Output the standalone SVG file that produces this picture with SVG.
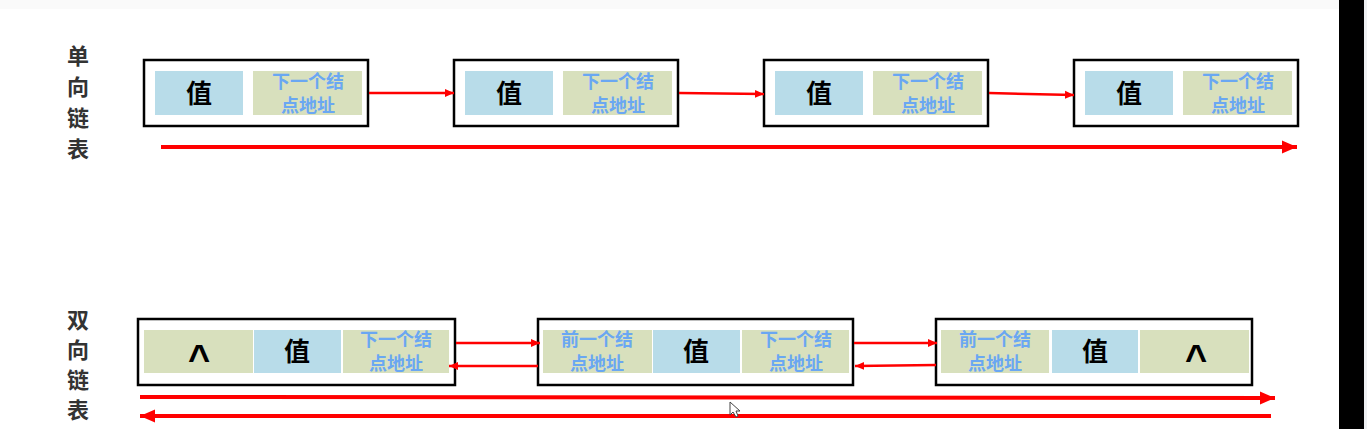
<svg xmlns="http://www.w3.org/2000/svg" width="1367" height="429" viewBox="0 0 1367 429">
<defs>
<style>
.box{fill:#fff;stroke:#000;stroke-width:2.5}
.val{fill:#b8dce9}
.ptr{fill:#d8e0bd}
.vt{font-family:"Noto Sans CJK SC","Noto Sans",sans-serif;font-weight:700;font-size:26px;fill:#000;text-anchor:middle}
.pt{font-family:"Noto Sans CJK SC","Noto Sans",sans-serif;font-weight:700;font-size:18px;fill:#6aa7f2;text-anchor:middle}
.nil{font-family:"Liberation Sans",Arial,sans-serif;font-weight:700;font-size:38px;fill:#000;text-anchor:middle}
.lab{font-family:"Noto Sans CJK SC",sans-serif;font-weight:700;font-size:22px;fill:#333;text-anchor:middle}
.thin{stroke:#ff0000;stroke-width:2.5;fill:none}
.thick{stroke:#ff0000;stroke-width:4;fill:none}
</style>
<marker id="ah" markerUnits="userSpaceOnUse" markerWidth="10" markerHeight="10" refX="9" refY="5" orient="auto">
<path d="M0,1 L9,5 L0,9 Z" fill="#ff0000"/>
</marker>
<marker id="ahL" markerUnits="userSpaceOnUse" markerWidth="16" markerHeight="14" refX="15" refY="7" orient="auto">
<path d="M0,0.5 L15,7 L0,13.5 Z" fill="#ff0000"/>
</marker>
</defs>
<rect x="0" y="0" width="1339" height="9" fill="#fafafa"/>
<rect x="1339" y="0" width="25" height="429" fill="#000"/>
<rect x="1364" y="0" width="3" height="429" fill="#eef0f3"/>

<g id="label-single">
<text class="lab" x="78" y="64">单</text>
<text class="lab" x="78" y="95">向</text>
<text class="lab" x="78" y="126">链</text>
<text class="lab" x="78" y="157">表</text>
</g>
<g id="label-double">
<text class="lab" x="78" y="328">双</text>
<text class="lab" x="78" y="358">向</text>
<text class="lab" x="78" y="388">链</text>
<text class="lab" x="78" y="418">表</text>
</g>

<g id="s1">
<rect class="box" x="144" y="60" width="224" height="66"/>
<rect class="val" x="155" y="71" width="88" height="44"/>
<rect class="ptr" x="253" y="71" width="109" height="44"/>
<text class="vt" x="199" y="103">值</text>
<text class="pt" x="308" y="88">下一个结</text>
<text class="pt" x="308" y="112">点地址</text>
</g>
<g id="s2">
<rect class="box" x="454" y="60" width="224" height="66"/>
<rect class="val" x="465" y="71" width="88" height="44"/>
<rect class="ptr" x="563" y="71" width="109" height="44"/>
<text class="vt" x="509" y="103">值</text>
<text class="pt" x="618" y="88">下一个结</text>
<text class="pt" x="618" y="112">点地址</text>
</g>
<g id="s3">
<rect class="box" x="764" y="60" width="224" height="66"/>
<rect class="val" x="775" y="71" width="88" height="44"/>
<rect class="ptr" x="873" y="71" width="109" height="44"/>
<text class="vt" x="819" y="103">值</text>
<text class="pt" x="928" y="88">下一个结</text>
<text class="pt" x="928" y="112">点地址</text>
</g>
<g id="s4">
<rect class="box" x="1074" y="60" width="224" height="66"/>
<rect class="val" x="1085" y="71" width="88" height="44"/>
<rect class="ptr" x="1183" y="71" width="109" height="44"/>
<text class="vt" x="1129" y="103">值</text>
<text class="pt" x="1238" y="88">下一个结</text>
<text class="pt" x="1238" y="112">点地址</text>
</g>

<g id="d1">
<rect class="box" x="138" y="319" width="317" height="66"/>
<rect class="ptr" x="144" y="330" width="109" height="43"/>
<rect class="val" x="254" y="330" width="87" height="43"/>
<rect class="ptr" x="343" y="330" width="106" height="43"/>
<text class="nil" x="199" y="372">^</text>
<text class="vt" x="297" y="361">值</text>
<text class="pt" x="396" y="346">下一个结</text>
<text class="pt" x="396" y="370">点地址</text>
</g>
<g id="d2">
<rect class="box" x="538" y="319" width="315" height="66"/>
<rect class="ptr" x="543" y="330" width="109" height="43"/>
<rect class="val" x="653" y="330" width="87" height="43"/>
<rect class="ptr" x="742" y="330" width="107" height="43"/>
<text class="pt" x="597" y="346">前一个结</text>
<text class="pt" x="597" y="370">点地址</text>
<text class="vt" x="696" y="361">值</text>
<text class="pt" x="796" y="346">下一个结</text>
<text class="pt" x="796" y="370">点地址</text>
</g>
<g id="d3">
<rect class="box" x="936" y="319" width="316" height="66"/>
<rect class="ptr" x="941" y="330" width="108" height="43"/>
<rect class="val" x="1052" y="330" width="86" height="43"/>
<rect class="ptr" x="1140" y="330" width="109" height="43"/>
<text class="pt" x="995" y="346">前一个结</text>
<text class="pt" x="995" y="370">点地址</text>
<text class="vt" x="1095" y="361">值</text>
<text class="nil" x="1196" y="372">^</text>
</g>

<g id="connectors">
<line class="thin" x1="369" y1="93" x2="454" y2="93" marker-end="url(#ah)"/>
<line class="thin" x1="679" y1="93" x2="764" y2="94" marker-end="url(#ah)"/>
<line class="thin" x1="989" y1="93" x2="1074" y2="95" marker-end="url(#ah)"/>
<line class="thick" x1="161" y1="147" x2="1297" y2="147" marker-end="url(#ahL)"/>
<line class="thin" x1="456" y1="343" x2="540" y2="343" marker-end="url(#ah)"/>
<line class="thin" x1="538" y1="366" x2="449" y2="366" marker-end="url(#ah)"/>
<line class="thin" x1="854" y1="343" x2="937" y2="343" marker-end="url(#ah)"/>
<line class="thin" x1="936" y1="365" x2="855" y2="366" marker-end="url(#ah)"/>
<line class="thick" x1="140" y1="397" x2="1275" y2="398" marker-end="url(#ahL)"/>
<line class="thick" x1="1271" y1="416" x2="140" y2="416" marker-end="url(#ahL)"/>
</g>
<path d="M730,402 L730,415 L733,412 L736,417 L738,416 L736,411 L740,411 Z" fill="#fff" stroke="#444" stroke-width="1"/>
</svg>
